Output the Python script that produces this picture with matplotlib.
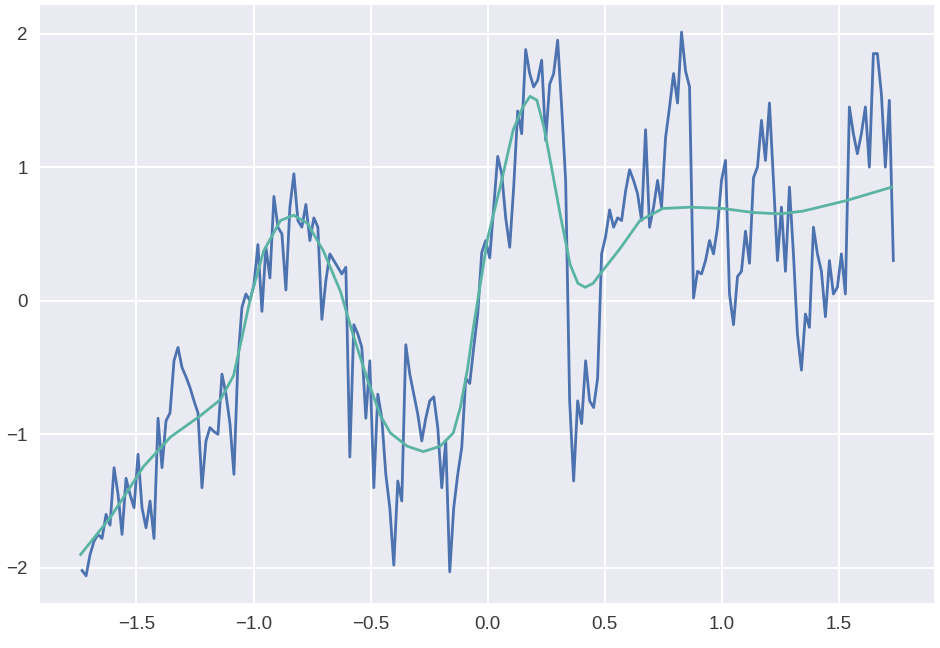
import numpy as np
import matplotlib.pyplot as plt

# serie ruidosa (x equiespaciado)
y_ruido = [
    -2.02, -2.06, -1.90, -1.80, -1.75, -1.78, -1.60, -1.68, -1.25, -1.45,
    -1.75, -1.33, -1.45, -1.55, -1.15, -1.55, -1.70, -1.50, -1.78, -0.88,
    -1.25, -0.90, -0.84, -0.45, -0.35, -0.50, -0.57, -0.65, -0.75, -0.84,
    -1.40, -1.05, -0.95, -0.98, -1.00, -0.55, -0.70, -0.92, -1.30, -0.45,
    -0.05, 0.05, 0.00, 0.12, 0.42, -0.08, 0.40, 0.17, 0.78, 0.55,
    0.50, 0.08, 0.70, 0.95, 0.60, 0.55, 0.72, 0.45, 0.62, 0.55,
    -0.14, 0.15, 0.35, 0.30, 0.25, 0.20, 0.25, -1.17, -0.18, -0.25,
    -0.35, -0.88, -0.45, -1.40, -0.70, -0.88, -1.30, -1.55, -1.98, -1.35,
    -1.50, -0.33, -0.55, -0.70, -0.85, -1.05, -0.88, -0.75, -0.72, -0.95,
    -1.40, -1.05, -2.03, -1.55, -1.30, -1.10, -0.58, -0.62, -0.35, -0.10,
    0.36, 0.45, 0.32, 0.70, 1.08, 0.95, 0.62, 0.40, 0.85, 1.42,
    1.25, 1.88, 1.70, 1.60, 1.65, 1.80, 1.20, 1.62, 1.70, 1.95,
    1.45, 0.90, -0.75, -1.35, -0.75, -0.92, -0.45, -0.75, -0.80, -0.58,
    0.35, 0.48, 0.68, 0.55, 0.62, 0.60, 0.82, 0.98, 0.90, 0.80,
    0.60, 1.28, 0.55, 0.70, 0.90, 0.70, 1.22, 1.45, 1.70, 1.48,
    2.01, 1.72, 1.60, 0.02, 0.22, 0.20, 0.30, 0.45, 0.35, 0.55,
    0.90, 1.05, 0.05, -0.18, 0.18, 0.22, 0.52, 0.28, 0.92, 1.00,
    1.35, 1.05, 1.48, 0.90, 0.30, 0.70, 0.22, 0.85, 0.35, -0.25,
    -0.52, -0.10, -0.20, 0.55, 0.35, 0.22, -0.12, 0.30, 0.05, 0.10,
    0.35, 0.05, 1.45, 1.25, 1.10, 1.25, 1.45, 1.00, 1.85, 1.85,
    1.55, 1.00, 1.50, 0.30,
]
x_ruido = np.linspace(-1.732, 1.732, len(y_ruido))

# curva suave (ajuste)
x_suave = [-1.738, -1.61, -1.469, -1.354, -1.226, -1.141, -1.085, -1.055, -1.013,
           -0.957, -0.885, -0.829, -0.770, -0.701, -0.629, -0.574, -0.514, -0.458,
           -0.416, -0.343, -0.275, -0.203, -0.147, -0.117, -0.087, -0.062, 0.0,
           0.053, 0.109, 0.150, 0.181, 0.210, 0.240, 0.267, 0.309, 0.352, 0.385,
           0.416, 0.450, 0.480, 0.565, 0.650, 0.748, 0.864, 1.004, 1.132, 1.247,
           1.345, 1.533, 1.725]
y_suave = [-1.90, -1.62, -1.24, -1.02, -0.86, -0.74, -0.56, -0.32, 0.02,
           0.37, 0.60, 0.64, 0.58, 0.37, 0.07, -0.26, -0.59, -0.86,
           -0.99, -1.09, -1.13, -1.09, -0.99, -0.80, -0.52, -0.21, 0.47,
           0.85, 1.28, 1.45, 1.53, 1.50, 1.30, 1.05, 0.65, 0.27, 0.13,
           0.10, 0.13, 0.20, 0.39, 0.60, 0.69, 0.70, 0.69, 0.66, 0.65,
           0.67, 0.75, 0.85]

fig = plt.figure(figsize=(9.4, 6.48), dpi=100)
ax = fig.add_axes([0.0426, 0.0694, 0.951, 0.9229])
ax.set_facecolor('#EAEAF2')
for s in ax.spines.values():
    s.set_visible(False)
ax.grid(True, color='white', linewidth=1.5)
ax.set_axisbelow(True)
ax.tick_params(length=0, labelsize=13.5, labelcolor='#3a3a3a', pad=9)

ax.plot(x_ruido, y_ruido, color='#4C72B0', linewidth=2.0)
ax.plot(x_suave, y_suave, color='#5AB4A4', linewidth=2.0)

ax.set_xticks([-1.5, -1.0, -0.5, 0.0, 0.5, 1.0, 1.5])
ax.set_yticks([-2, -1, 0, 1, 2])
for t in ax.get_xticklabels() + ax.get_yticklabels():
    t.set_family(['Liberation Sans', 'DejaVu Sans'])

plt.savefig('out.png', dpi=100)
